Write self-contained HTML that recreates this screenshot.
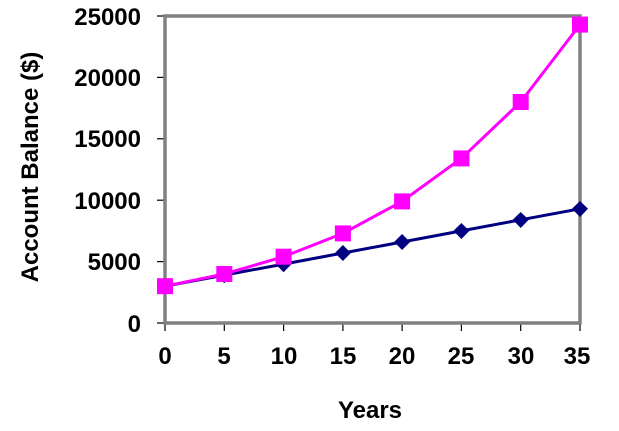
<!DOCTYPE html>
<html><head><style>body{margin:0;background:#fff}</style></head><body>
<svg width="619" height="426" xmlns="http://www.w3.org/2000/svg" font-family="Liberation Sans, sans-serif" font-weight="bold">
<rect x="0" y="0" width="619" height="426" fill="#fff"/>
<g stroke="#000" stroke-width="1.2">
<line x1="157" y1="16" x2="165" y2="16"/><line x1="157" y1="77.4" x2="165" y2="77.4"/><line x1="157" y1="138.8" x2="165" y2="138.8"/><line x1="157" y1="200.2" x2="165" y2="200.2"/><line x1="157" y1="261.6" x2="165" y2="261.6"/><line x1="157" y1="323" x2="165" y2="323"/>
<line x1="165" y1="323" x2="165" y2="331"/><line x1="224.3" y1="323" x2="224.3" y2="331"/><line x1="283.6" y1="323" x2="283.6" y2="331"/><line x1="342.9" y1="323" x2="342.9" y2="331"/><line x1="402.1" y1="323" x2="402.1" y2="331"/><line x1="461.4" y1="323" x2="461.4" y2="331"/><line x1="520.7" y1="323" x2="520.7" y2="331"/><line x1="580" y1="323" x2="580" y2="331"/>
</g>
<rect x="165" y="16" width="415" height="307" fill="none" stroke="#808080" stroke-width="3.5"/>
<g font-size="24" text-anchor="end" fill="#000">
<text x="141" y="25">25000</text><text x="141" y="86">20000</text><text x="141" y="147">15000</text><text x="141" y="209">10000</text><text x="141" y="270">5000</text><text x="141" y="332">0</text>
</g>
<g font-size="24" text-anchor="middle" fill="#000">
<text x="165" y="364">0</text><text x="224" y="364">5</text><text x="284" y="364">10</text><text x="343" y="364">15</text><text x="402" y="364">20</text><text x="461" y="364">25</text><text x="521" y="364">30</text><text x="577" y="364">35</text>
<text x="370" y="418">Years</text>
<text transform="translate(38,167) rotate(-90)">Account Balance ($)</text>
</g>
<polyline fill="none" stroke="#000080" stroke-width="3" points="165,286.2 224.3,275.1 283.6,264.1 342.9,253 402.1,242 461.4,230.9 520.7,219.8 580,208.8"/>
<g fill="#000080">
<polygon points="165,278 173,286.2 165,294.4 157,286.2"/><polygon points="224.3,267 232.3,275.1 224.3,283.2 216.3,275.1"/><polygon points="283.6,256 291.6,264.1 283.6,272.2 275.6,264.1"/><polygon points="342.9,245 350.9,253 342.9,261 334.9,253"/><polygon points="402.1,234 410.1,242 402.1,250 394.1,242"/><polygon points="461.4,223 469.4,230.9 461.4,239 453.4,230.9"/><polygon points="520.7,212 528.7,219.8 520.7,228 512.7,219.8"/><polygon points="580,201 588,208.8 580,217 572,208.8"/>
</g>
<polyline fill="none" stroke="#ff00ff" stroke-width="3" points="165,286.2 224.3,274 283.6,256.7 342.9,233.4 402.1,201.4 461.4,158.4 520.7,102 580,24.6"/>
<g fill="#ff00ff">
<rect x="157" y="278.2" width="16" height="16"/><rect x="216.3" y="266" width="16" height="16"/><rect x="275.6" y="248.7" width="16" height="16"/><rect x="334.9" y="225.4" width="16" height="16"/><rect x="394.1" y="193.4" width="16" height="16"/><rect x="453.4" y="150.4" width="16" height="16"/><rect x="512.7" y="94" width="16" height="16"/><rect x="572" y="16.6" width="16" height="16"/>
</g>
</svg>
</body></html>
